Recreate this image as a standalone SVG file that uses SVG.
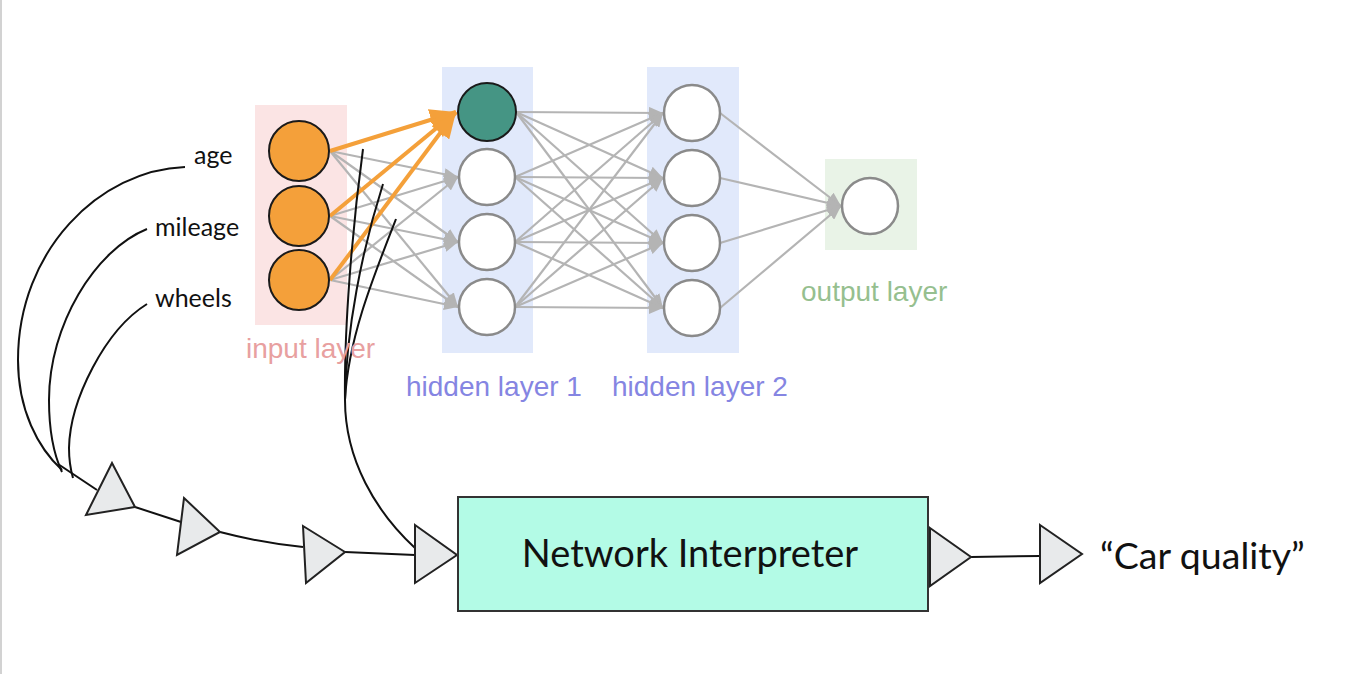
<svg xmlns="http://www.w3.org/2000/svg" width="1354" height="674" viewBox="0 0 1354 674">
<defs>
<style>
.g{stroke:#b4b4b4;stroke-width:2.2;fill:none;marker-end:url(#ag)}
.o{stroke:#f4a03a;stroke-width:4;fill:none;marker-end:url(#ao)}
.k{stroke:#111;stroke-width:2;fill:none}
.tri{fill:#e8eaeb;stroke:#222;stroke-width:2;stroke-linejoin:miter}
.nin{fill:#f4a03a;stroke:#1a1a1a;stroke-width:2}
.nh{fill:#fff;stroke:#8a8a8a;stroke-width:2.5}
.lab{font-family:"Liberation Sans",Arial,sans-serif;font-size:28px}
.lt{font-family:Lato,"Noto Sans",sans-serif;fill:#111}
</style>
<marker id="ag" viewBox="0 0 14 12" refX="14" refY="6" markerWidth="14" markerHeight="12" orient="auto" markerUnits="userSpaceOnUse"><path d="M0,0 L14,6 L0,12 z" fill="#b4b4b4"/></marker>
<marker id="ao" viewBox="0 0 26 22" refX="26" refY="11" markerWidth="26" markerHeight="22" orient="auto" markerUnits="userSpaceOnUse"><path d="M0,0 L26,11 L0,22 z" fill="#f4a03a"/></marker>
</defs>
<rect x="0" y="0" width="1354" height="674" fill="#fff"/>
<rect x="0" y="0" width="2" height="674" fill="#d2d2d2"/>

<g id="layer-backgrounds">
<rect x="255" y="105" width="92" height="220" fill="#fbe4e4"/>
<rect x="442" y="67" width="91" height="286" fill="#e1e9fb"/>
<rect x="647" y="67" width="92" height="286" fill="#e1e9fb"/>
<rect x="825" y="159" width="92" height="91" fill="#e9f3e7"/>
</g>

<g id="connectors">
<g id="nn-edges">
<path class="g" d="M330,151 L458,177"/><path class="g" d="M330,151 L458,242"/><path class="g" d="M330,151 L458,307"/>
<path class="g" d="M330,216 L458,177"/><path class="g" d="M330,216 L458,242"/><path class="g" d="M330,216 L458,307"/>
<path class="g" d="M330,280 L458,177"/><path class="g" d="M330,280 L458,242"/><path class="g" d="M330,280 L458,307"/>

<path class="g" d="M516,112 L663,113"/><path class="g" d="M516,112 L663,178"/><path class="g" d="M516,112 L663,243"/><path class="g" d="M516,112 L663,308"/>
<path class="g" d="M515,177 L663,113"/><path class="g" d="M515,177 L663,178"/><path class="g" d="M515,177 L663,243"/><path class="g" d="M515,177 L663,308"/>
<path class="g" d="M515,242 L663,113"/><path class="g" d="M515,242 L663,178"/><path class="g" d="M515,242 L663,243"/><path class="g" d="M515,242 L663,308"/>
<path class="g" d="M515,307 L663,113"/><path class="g" d="M515,307 L663,178"/><path class="g" d="M515,307 L663,243"/><path class="g" d="M515,307 L663,308"/>

<path class="g" d="M720,113 L841,206"/><path class="g" d="M720,178 L841,206"/><path class="g" d="M720,243 L841,206"/><path class="g" d="M720,308 L841,206"/>

<path class="o" d="M330,151 L456,112"/><path class="o" d="M330,216 L456,112"/><path class="o" d="M330,280 L456,112"/>
</g>
<g id="flow-lines">
<path class="k" d="M185,167 C100,170 18,250 18,360 C18,410 38,448 62,470"/>
<path class="k" d="M147,229 C95,250 49,325 49,400 C49,430 54,455 62,472"/>
<path class="k" d="M147,304 C105,330 70,400 69,448 C69,462 71,471 73,478"/>
<path class="k" d="M58,464 L97,490"/>
<path class="k" d="M135,507 L181,522"/>
<path class="k" d="M220,532 Q262,543 303,547"/>
<path class="k" d="M345,552 L415,555"/>
<path class="k" d="M363,149 C352,230 344,330 345,400"/>
<path class="k" d="M383,184 C362,250 346,330 345,400"/>
<path class="k" d="M396,219 C372,280 348,340 345,400"/>
<path class="k" d="M345,400 C345,460 376,512 415,548"/>
<path class="k" d="M971,557 L1040,556"/>
</g>
</g>

<g id="input-layer">
<circle class="nin" cx="299" cy="151" r="30"/>
<circle class="nin" cx="299" cy="216" r="30"/>
<circle class="nin" cx="299" cy="280" r="30"/>
<text class="lab" x="246" y="358" fill="#e8a0a0">input layer</text>
</g>
<g id="hidden-layer-1">
<circle cx="487" cy="112" r="29" fill="#459584" stroke="#1a1a1a" stroke-width="2"/>
<circle class="nh" cx="487" cy="177" r="28"/>
<circle class="nh" cx="487" cy="242" r="28"/>
<circle class="nh" cx="487" cy="307" r="28"/>
<text class="lab" x="406" y="396" fill="#8585e2">hidden layer 1</text>
</g>
<g id="hidden-layer-2">
<circle class="nh" cx="692" cy="113" r="28"/>
<circle class="nh" cx="692" cy="178" r="28"/>
<circle class="nh" cx="692" cy="243" r="28"/>
<circle class="nh" cx="692" cy="308" r="28"/>
<text class="lab" x="612" y="396" fill="#8585e2">hidden layer 2</text>
</g>
<g id="output-layer">
<circle class="nh" cx="870" cy="206" r="28"/>
<text class="lab" x="801" y="301" fill="#96bf8f">output layer</text>
</g>

<g id="inputs">
<text class="lt" x="194" y="164" font-size="25">age</text>
<text class="lt" x="155" y="236" font-size="25">mileage</text>
<text class="lt" x="155" y="307" font-size="25">wheels</text>
</g>

<g id="triangles">
<polygon class="tri" points="112,463 135,507 86,515"/>
<polygon class="tri" points="184,498 220,532 177,555"/>
<polygon class="tri" points="303,526 345,552 306,583"/>
<polygon class="tri" points="415,525 457,555 415,583"/>
<polygon class="tri" points="930,528 971,557 930,586"/>
<polygon class="tri" points="1040,525 1082,554 1040,583"/>
</g>

<g id="network-interpreter">
<rect x="458" y="497" width="470" height="114" fill="#b3fbe6" stroke="#333" stroke-width="2"/>
<text class="lt" x="690" y="567" font-size="38" text-anchor="middle">Network Interpreter</text>
</g>

<g id="output">
<text class="lt" x="1100" y="569" font-size="37.5">“Car quality”</text>
</g>
</svg>
